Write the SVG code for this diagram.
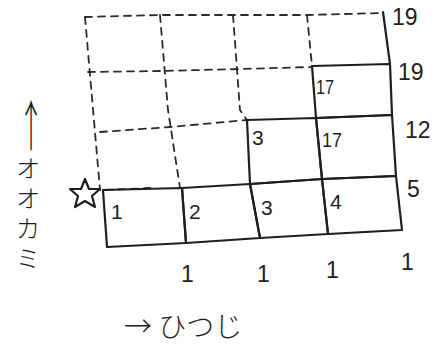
<svg xmlns="http://www.w3.org/2000/svg" width="435" height="346" viewBox="0 0 435 346">
<style>
.s{fill:none;stroke:#1e1e1e;stroke-width:2.2;stroke-linejoin:round;stroke-linecap:round}
.d{fill:none;stroke:#2a2a2a;stroke-width:1.8;stroke-dasharray:7 6;stroke-linecap:round}
.n{font-family:"Liberation Sans","DejaVu Sans",sans-serif;font-size:21px;fill:#1e1e1e}
.r{font-family:"Liberation Sans","DejaVu Sans",sans-serif;font-size:23px;fill:#1e1e1e}
.j{font-family:"Noto Sans CJK JP","Noto Sans",sans-serif;font-size:25px;fill:#1e1e1e;font-weight:300}
</style>
<rect width="435" height="346" fill="#ffffff"/>
<g id="connectors">
<polyline class="d" points="85,17 160,15 233,15 307,15 383,13"/>
<polyline class="d" points="88,72 160,71 240,69 312,67"/>
<polyline class="d" points="100,132 170,127 247,120"/>
<polyline class="d" points="85,17 100,190"/>
<polyline class="d" points="160,15 168,110 180,188"/>
<polyline class="d" points="233,15 240,110 247,120"/>
<polyline class="d" points="307,15 312,66"/>
<polyline class="d" points="105,190 150,188"/>
<polyline class="s" points="383,12 390,64"/>
</g>
<g id="cell-1"><polygon class="s" points="103,190 182,188 186,243 107,247"/><text class="n" x="111" y="219">1</text></g>
<g id="cell-2"><polygon class="s" points="182,188 250,184 260,238 186,243"/><text class="n" x="189" y="219">2</text></g>
<g id="cell-3b"><polygon class="s" points="250,184 322,179 328,234 260,238"/><text class="n" x="261" y="215">3</text></g>
<g id="cell-4"><polygon class="s" points="322,179 396,176 402,230 328,234"/><text class="n" x="330" y="209">4</text></g>
<g id="cell-3a"><polygon class="s" points="247,120 316,118 322,179 250,184"/><text class="n" x="252" y="145">3</text></g>
<g id="cell-17a"><polygon class="s" points="316,118 392,115 396,176 322,179"/><text class="n" x="322" y="147" textLength="20" lengthAdjust="spacingAndGlyphs">17</text></g>
<g id="cell-17b"><polygon class="s" points="312,66 390,64 392,115 316,118"/><text class="n" x="316" y="94" textLength="18" lengthAdjust="spacingAndGlyphs">17</text></g>
<g id="star"><polygon class="s" stroke-width="2" points="85,179 89,189 100,189 92,196 95,207 85,201 75,207 78,196 70,189 81,189"/></g>
<g id="row-totals">
<text class="r" x="392" y="25">19</text>
<text class="r" x="398" y="80">19</text>
<text class="r" x="405" y="138">12</text>
<text class="r" x="407" y="197">5</text>
</g>
<g id="col-totals">
<text class="r" x="181" y="282">1</text>
<text class="r" x="257" y="282">1</text>
<text class="r" x="326" y="278">1</text>
<text class="r" x="401" y="270">1</text>
</g>
<g id="y-axis">
<text class="j" text-anchor="middle" transform="translate(31,146) scale(0.8,1.7)" style="font-size:32px">↑</text>
<text class="j" x="28" y="156" style="writing-mode:vertical-rl;letter-spacing:5px">オオカミ</text>
</g>
<g id="x-axis">
<text class="j" x="124" y="337" style="font-size:28px">→ ひつじ</text>
</g>
</svg>
